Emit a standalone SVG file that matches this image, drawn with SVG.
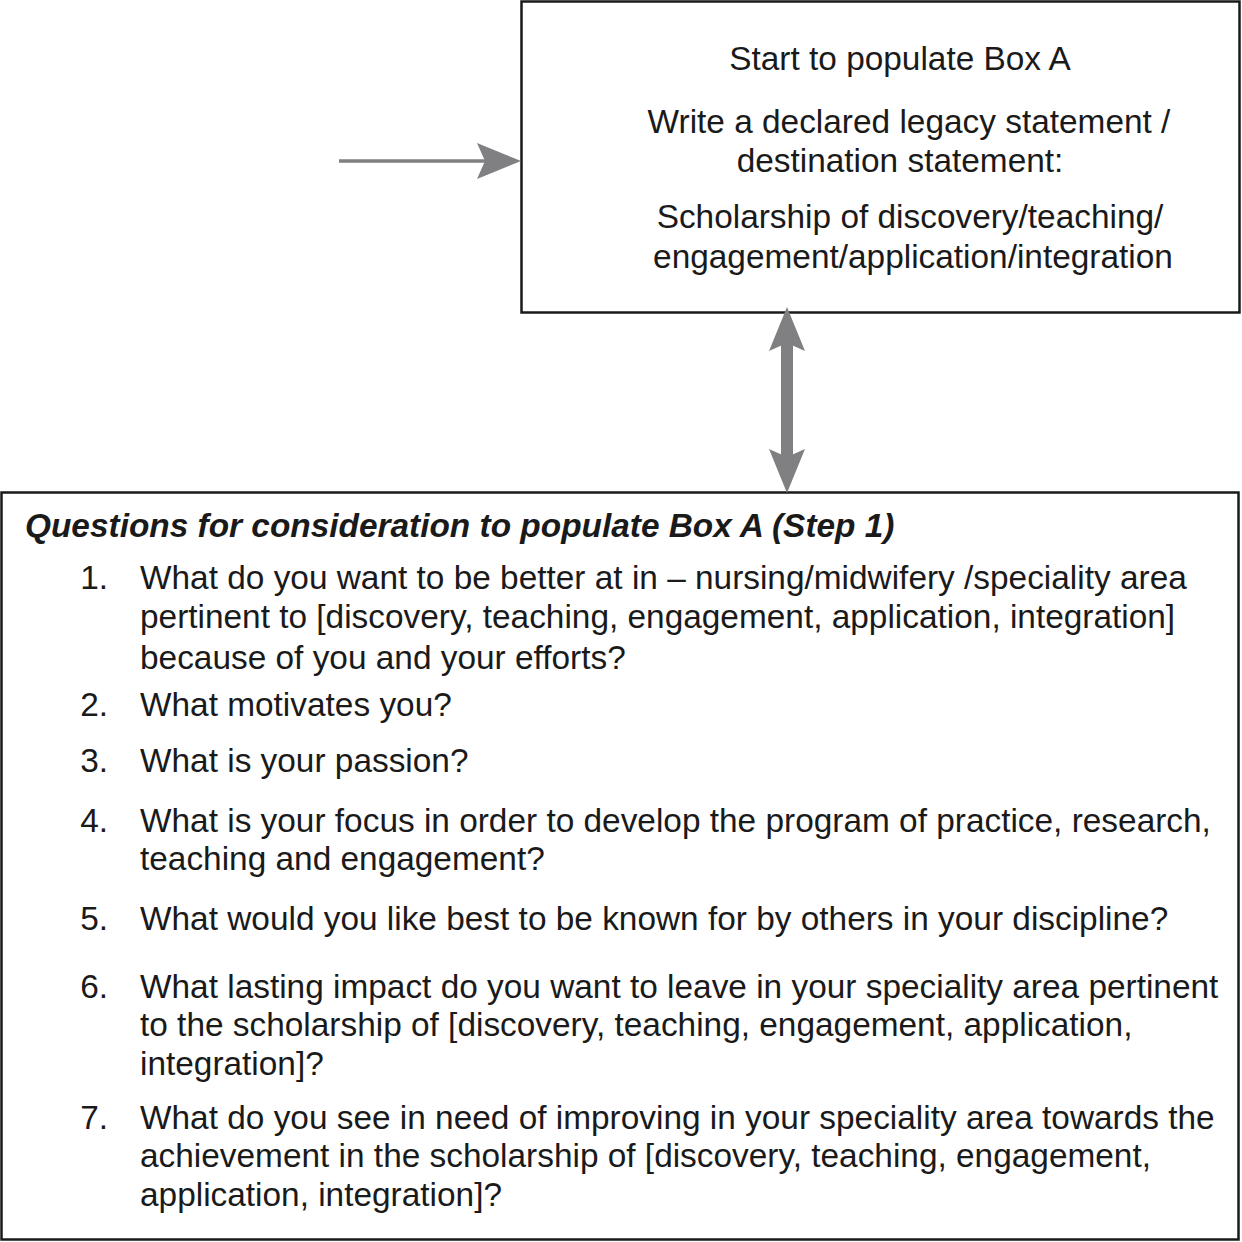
<svg xmlns="http://www.w3.org/2000/svg" width="1242" height="1242" viewBox="0 0 1242 1242">
<style>
.box{fill:#fff;stroke:#1a1a1a;stroke-width:2.5}
text{font-family:"Liberation Sans",Arial,sans-serif;font-size:33.4px;fill:#1a1a1a}
.c{text-anchor:middle}
.t{font-weight:bold;font-style:italic}
.n{text-anchor:end}
</style>
<defs>
<marker id="ah" markerWidth="44" markerHeight="36" refX="8" refY="18" markerUnits="userSpaceOnUse" orient="auto-start-reverse">
<path d="M0,0 L44,18 L0,36 L8,18 Z" fill="#808083"/>
</marker>
</defs>
<rect width="1242" height="1242" fill="#fff"/>
<g id="boxA">
<rect class="box" x="521.5" y="1.5" width="718" height="311"/>
<text class="c" x="900" y="70">Start to populate Box A</text>
<text class="c" x="909" y="133">Write a declared legacy statement /</text>
<text class="c" x="900" y="172">destination statement:</text>
<text class="c" x="910" y="228">Scholarship of discovery/teaching/</text>
<text class="c" x="913" y="268">engagement/application/integration</text>
</g>
<g id="questions">
<rect class="box" x="1.5" y="492.5" width="1237" height="747"/>
<text class="t" x="25" y="537">Questions for consideration to populate Box A (Step 1)</text>
<text class="n" x="108" y="589">1.</text>
<text x="140" y="589">What do you want to be better at in – nursing/midwifery /speciality area</text>
<text x="140" y="628">pertinent to [discovery, teaching, engagement, application, integration]</text>
<text x="140" y="669">because of you and your efforts?</text>
<text class="n" x="108" y="716">2.</text>
<text x="140" y="716">What motivates you?</text>
<text class="n" x="108" y="772">3.</text>
<text x="140" y="772">What is your passion?</text>
<text class="n" x="108" y="832">4.</text>
<text x="140" y="832">What is your focus in order to develop the program of practice, research,</text>
<text x="140" y="870">teaching and engagement?</text>
<text class="n" x="108" y="930">5.</text>
<text x="140" y="930">What would you like best to be known for by others in your discipline?</text>
<text class="n" x="108" y="998">6.</text>
<text x="140" y="998">What lasting impact do you want to leave in your speciality area pertinent</text>
<text x="140" y="1036">to the scholarship of [discovery, teaching, engagement, application,</text>
<text x="140" y="1075">integration]?</text>
<text class="n" x="108" y="1129">7.</text>
<text x="140" y="1129">What do you see in need of improving in your speciality area towards the</text>
<text x="140" y="1167">achievement in the scholarship of [discovery, teaching, engagement,</text>
<text x="140" y="1206">application, integration]?</text>
</g>
<g id="connectors" fill="none" stroke="#808083">
<line x1="339" y1="161" x2="485" y2="161" stroke-width="3.5" marker-end="url(#ah)"/>
<line x1="787" y1="343" x2="787" y2="457" stroke-width="12" marker-start="url(#ah)" marker-end="url(#ah)"/>
</g>
</svg>
